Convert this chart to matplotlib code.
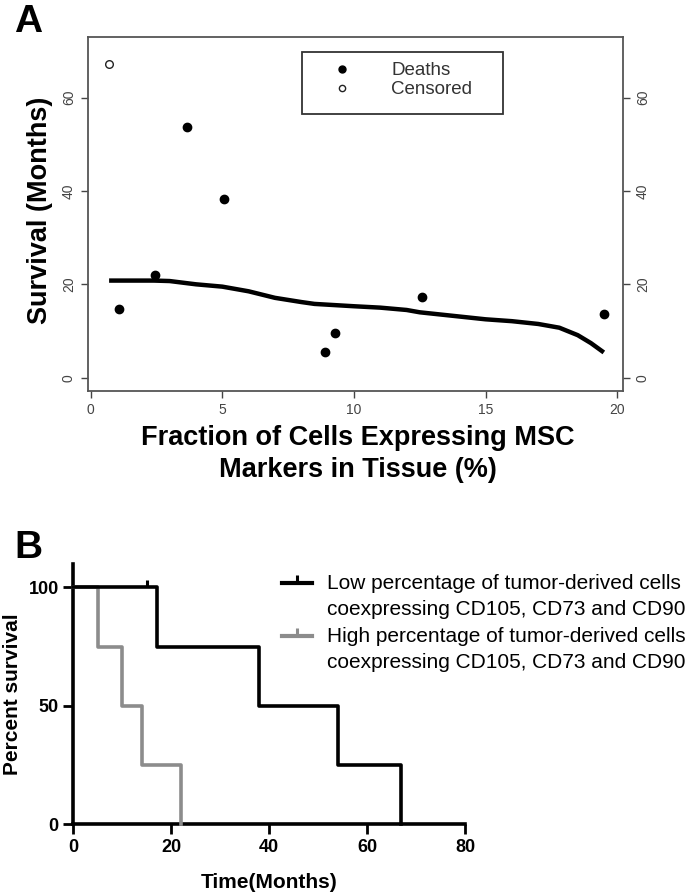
import matplotlib
matplotlib.use("Agg")
import matplotlib.pyplot as plt
from matplotlib.patches import Rectangle
from matplotlib.lines import Line2D
from matplotlib.legend_handler import HandlerLine2D

plt.rcParams['font.family'] = ['Liberation Sans', 'DejaVu Sans']

# ---------------- Panel A data ----------------
death_x = [1.06, 2.43, 3.65, 5.06, 8.90, 9.29, 12.58, 19.49]
death_y = [14.7, 21.9, 53.7, 38.3, 5.4, 9.6, 17.2, 13.7]
censor_x = [0.70]
censor_y = [67.2]
fit_x = [0.70, 2.4, 3.0, 4.0, 5.0, 6.0, 7.0, 8.0, 8.5, 10.0, 11.0, 12.0, 12.5,
         14.0, 15.0, 16.0, 17.0, 17.8, 18.5, 19.0, 19.49]
fit_y = [20.8, 20.8, 20.7, 20.0, 19.5, 18.5, 17.1, 16.2, 15.8, 15.3, 15.0, 14.5,
         14.0, 13.1, 12.5, 12.1, 11.5, 10.7, 9.1, 7.4, 5.4]
a_xticks = [0, 5, 10, 15, 20]
a_yticks = [0, 20, 40, 60]

# ---------------- Panel B data ----------------
low_t = [0, 17, 38, 54, 67]
low_s = [100, 75, 50, 25, 0]
low_cens_t = [15]
low_cens_s = [100]
high_t = [0, 5, 10, 14, 22]
high_s = [100, 75, 50, 25, 0]
b_xticks = [0, 20, 40, 60, 80]
b_yticks = [0, 50, 100]
low_label = "Low percentage of tumor-derived cells\ncoexpressing CD105, CD73 and CD90"
high_label = "High percentage of tumor-derived cells\ncoexpressing CD105, CD73 and CD90"

W, H = 700, 894
fig = plt.figure(figsize=(W / 100, H / 100), dpi=100)


def fx(px):
    return px / W


def fy(py):
    return 1 - py / H


class HandlerUp(HandlerLine2D):
    """Legend line aligned with the first line of a two-line label."""
    def create_artists(self, legend, orig_handle, xdescent, ydescent, width,
                       height, fontsize, trans):
        arts = super().create_artists(legend, orig_handle, xdescent, ydescent,
                                      width, height, fontsize, trans)
        for a in arts:
            a.set_ydata([y + 0.66 * fontsize for y in a.get_ydata()])
        return arts


# ================= Panel A =================
axA = fig.add_axes([fx(88.3), fy(390.7), (623.3 - 88.3) / W, (390.7 - 37) / H])
axA.set_xlim(-0.09, 20.23)
axA.set_ylim(-2.8, 73.0)
axA.plot(fit_x, fit_y, color='black', lw=3.2, solid_capstyle='butt', zorder=2)
axA.plot(death_x, death_y, 'o', color='black', ms=6, zorder=3)
axA.plot(censor_x, censor_y, 'o', mfc='white', mec='#222222', mew=1.0, ms=5.5, zorder=3)

gcol = '#444444'
for s in axA.spines.values():
    s.set_color('#555555')
    s.set_linewidth(1.3)
axA.set_xticks(a_xticks)
axA.set_yticks(a_yticks)
axA.tick_params(axis='x', direction='out', length=5, width=1.0, colors=gcol,
                labelsize=10, pad=4)
axA.tick_params(axis='y', direction='out', length=5, width=1.0, colors=gcol,
                labelsize=10, pad=4, right=True, labelright=True, labelrotation=90)
for lab in axA.get_yticklabels(which='both'):
    lab.set_va('center')

fig.text(fx(40), fy(210), "Survival (Months)", rotation=90, fontsize=19.5,
         fontweight='bold', ha='center', va='center')
fig.text(fx(358), fy(454), "Fraction of Cells Expressing MSC\nMarkers in Tissue (%)",
         fontsize=19.5, fontweight='bold', ha='center', va='center', linespacing=1.3)

# legend A
hA1 = Line2D([], [], ls='none', marker='o', color='black', ms=5)
hA2 = Line2D([], [], ls='none', marker='o', mfc='white', mec='#222222', mew=1.0, ms=4.5)
legA = fig.legend([hA1, hA2], ["Deaths", "Censored"], loc='upper left',
                  bbox_to_anchor=(fx(333), fy(62)), frameon=False, fontsize=13.5,
                  handlelength=1.0, handletextpad=2.1, labelspacing=0.12,
                  borderpad=0, borderaxespad=0, labelcolor='#333333')
fig.patches.append(Rectangle((fx(302), fy(114)), (503 - 302) / W, (114 - 52) / H,
                             transform=fig.transFigure, fill=False,
                             edgecolor='#333333', lw=1.3))

fig.text(fx(14), fy(22), "A", fontsize=28, fontweight='bold', ha='left', va='center')

# ================= Panel B =================
axB = fig.add_axes([fx(73.3), fy(824.3), (465 - 73.3) / W, (824.3 - 563.6) / H])
axB.set_xlim(0, 80)
axB.set_ylim(0, 110)
axB.step(high_t, high_s, where='post', color='#8c8c8c', lw=2.6, clip_on=False, zorder=3)
axB.step(low_t, low_s, where='post', color='black', lw=2.6, clip_on=False, zorder=4)
axB.plot(low_cens_t, low_cens_s, ls='none', marker=2, color='black', ms=5, mew=2.2,
         clip_on=False, zorder=5)
for side in ['top', 'right']:
    axB.spines[side].set_visible(False)
for side in ['left', 'bottom']:
    axB.spines[side].set_linewidth(2.6)
    axB.spines[side].set_color('black')
axB.set_xticks(b_xticks)
axB.set_yticks(b_yticks)
axB.tick_params(direction='out', length=7.5, width=2.0, labelsize=13, pad=3)
for lab in axB.get_xticklabels() + axB.get_yticklabels():
    lab.set_fontweight('bold')
axB.set_xlabel("Time(Months)", fontsize=15, fontweight='bold', labelpad=12)
fig.text(fx(13), fy(694), "Percent survival", rotation=90, fontsize=15,
         fontweight='bold', ha='center', va='center')

hB1 = Line2D([], [], color='black', lw=3, marker=2, ms=6, mew=2.2)
hB2 = Line2D([], [], color='#8c8c8c', lw=3, marker=2, ms=6, mew=2.2)
legB = fig.legend([hB1, hB2], [low_label, high_label], loc='upper left',
                  bbox_to_anchor=(fx(282), fy(574)), frameon=False, fontsize=15,
                  handlelength=1.45, handletextpad=0.7, labelspacing=0.4,
                  borderpad=0, borderaxespad=0, numpoints=1,
                  handler_map={Line2D: HandlerUp()})
for t in legB.get_texts():
    t.set_linespacing(1.45)

fig.text(fx(14), fy(548), "B", fontsize=28, fontweight='bold', ha='left', va='center')

fig.savefig("out.png", dpi=100)
